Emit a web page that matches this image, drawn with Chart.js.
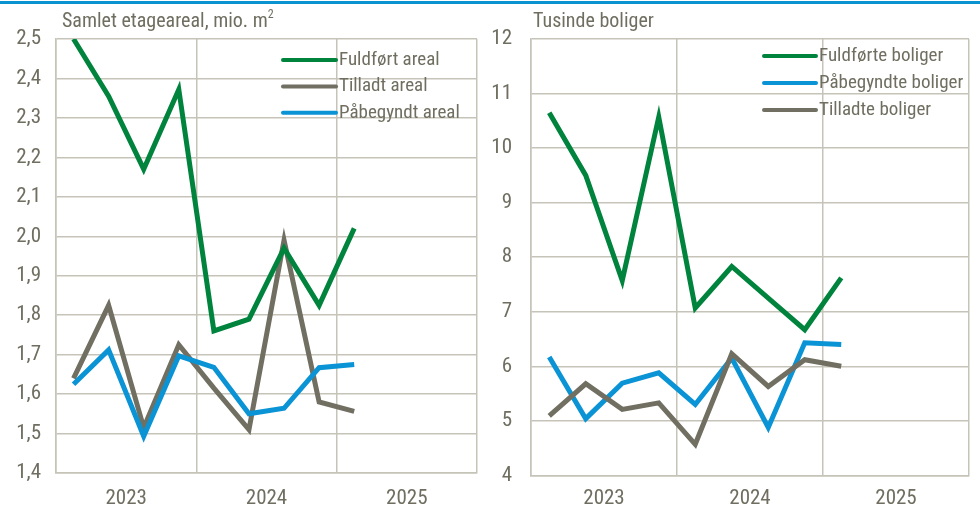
<!DOCTYPE html>
<html>
<head>
<meta charset="utf-8">
<script src="https://cdn.jsdelivr.net/npm/chart.js@4.4.1/dist/chart.umd.min.js"></script>
<style>
  html, body { margin:0; padding:0; background:#fff; }
  body { width:980px; height:507px; position:relative; overflow:hidden; }
  #topline { position:absolute; left:0; top:1px; width:980px; height:2.5px; background:#0a93d1; }
  .panel { position:absolute; top:0; width:490px; height:507px; }
  .ttl { position:absolute; top:8px; font-family:'Liberation Sans Narrow','Arial Narrow','Roboto Condensed','DejaVu Sans Condensed',sans-serif; font-size:20px; color:#6f6e60; white-space:nowrap; }
  .ttl sup { font-size:12px; position:relative; top:-1px; }
</style>
</head>
<body>
<div id="topline"></div>
<div class="panel" style="left:0"><canvas id="c1" width="490" height="507"></canvas></div>
<div class="panel" style="left:490px"><canvas id="c2" width="490" height="507"></canvas></div>
<div class="ttl" style="left:62px">Samlet etageareal, mio. m<sup>2</sup></div>
<div class="ttl" style="left:533px">Tusinde boliger</div>
<script>
// ---------- DATA ----------
const quarters = ['2023K1','2023K2','2023K3','2023K4','2024K1','2024K2','2024K3','2024K4','2025K1','2025K2','2025K3','2025K4'];
const yearLabels = ['2023','2024','2025'];

// Left panel: Samlet etageareal, mio. m2
const fuldfoertAreal  = [2.50, 2.355, 2.17, 2.372, 1.76, 1.79, 1.97, 1.825, 2.02];
const tilladtAreal    = [1.64, 1.825, 1.515, 1.725, 1.615, 1.51, 1.99, 1.58, 1.556];
const paabegyndtAreal = [1.625, 1.712, 1.493, 1.697, 1.668, 1.55, 1.564, 1.667, 1.675];
const leftTicks = [1.4,1.5,1.6,1.7,1.8,1.9,2.0,2.1,2.2,2.3,2.4,2.5];

// Right panel: Tusinde boliger
const fuldfoerteBoliger  = [10.65, 9.5, 7.57, 10.57, 7.07, 7.83, 7.25, 6.67, 7.62];
const paabegyndteBoliger = [6.17, 5.04, 5.69, 5.88, 5.30, 6.15, 4.88, 6.43, 6.40];
const tilladteBoliger    = [5.09, 5.68, 5.21, 5.33, 4.57, 6.23, 5.63, 6.12, 6.00];
const rightTicks = [4,5,6,7,8,9,10,11,12];

// ---------- STYLE ----------
const FONT = "'Liberation Sans Narrow','Arial Narrow','Roboto Condensed','DejaVu Sans Condensed',sans-serif";
const TEXT = '#6f6e60';
const GRID = '#c6c4b8';
const GREEN = '#00843d';
const GRAY = '#706f62';
const BLUE = '#0a93d5';

function pts(arr){ return arr.map((v,i)=>({x:i+0.5, y:v})); }

const legendPlugin = {
  id:'customLegend',
  afterDraw(chart, args, opts){
    const ctx = chart.ctx;
    ctx.save();
    ctx.font = '19px ' + FONT;
    ctx.textBaseline = 'middle';
    ctx.textAlign = 'left';
    opts.items.forEach((it, k) => {
      const ds = chart.data.datasets[it];
      const y = opts.y0 + k*opts.dy;
      ctx.strokeStyle = ds.borderColor;
      ctx.lineWidth = 4;
      ctx.lineCap = 'round';
      ctx.beginPath();
      ctx.moveTo(opts.x0, y);
      ctx.lineTo(opts.x1, y);
      ctx.stroke();
      ctx.fillStyle = TEXT;
      ctx.fillText(ds.label, opts.x1 + 3, y);
    });
    ctx.restore();
  }
};

function makeChart(id, datasets, ticks, fmt, geom, legend){
  return new Chart(document.getElementById(id), {
    type:'line',
    data:{ datasets },
    options:{
      responsive:false,
      animation:false,
      events:[],
      layout:{ padding:{ top:geom.top, right:geom.right, left:0, bottom:0 } },
      elements:{ point:{ radius:0 }, line:{ borderWidth:5, tension:0, borderJoinStyle:'miter', borderCapStyle:'butt' } },
      plugins:{ legend:{ display:false }, tooltip:{ enabled:false }, customLegend: legend },
      scales:{
        x:{
          type:'linear', min:0, max:12,
          afterBuildTicks:(s)=>{ s.ticks=[0,2,4,6,8,10,12].map(v=>({value:v})); },
          afterFit:(s)=>{ s.height = geom.xh; },
          grid:{ color:(c)=> (c.tick && c.tick.value % 4 === 0) ? GRID : 'rgba(0,0,0,0)', lineWidth:1.5, drawTicks:false },
          border:{ color:GRID, width:1.5 },
          ticks:{ autoSkip:false, maxRotation:0, padding:geom.xpad, color:TEXT, font:{ family:FONT, size:21 },
            callback:(v)=> (v % 4 === 2) ? yearLabels[(v-2)/4] : '' }
        },
        y:{
          type:'linear', min:ticks[0], max:ticks[ticks.length-1],
          afterBuildTicks:(s)=>{ s.ticks = ticks.map(v=>({value:v})); },
          afterFit:(s)=>{ s.width = geom.yw; },
          grid:{ color:GRID, lineWidth:1.5, drawTicks:false },
          border:{ color:GRID, width:1.5 },
          ticks:{ padding:geom.ypad, color:TEXT, font:{ family:FONT, size:21 }, callback:fmt }
        }
      }
    },
    plugins:[legendPlugin]
  });
}

makeChart('c1', [
  { label:'Fuldført areal', data:pts(fuldfoertAreal), borderColor:GREEN, order:0 },
  { label:'Tilladt areal', data:pts(tilladtAreal), borderColor:GRAY, order:2 },
  { label:'Påbegyndt areal', data:pts(paabegyndtAreal), borderColor:BLUE, order:1 }
], leftTicks, (v)=> Number(v).toFixed(1).replace('.', ','),
  { top:39, right:12, xh:34, xpad:13, yw:56, ypad:15 },
  { items:[0,1,2], x0:283, x1:336, y0:60, dy:26.4 });

makeChart('c2', [
  { label:'Fuldførte boliger', data:pts(fuldfoerteBoliger), borderColor:GREEN, order:0 },
  { label:'Påbegyndte boliger', data:pts(paabegyndteBoliger), borderColor:BLUE, order:2 },
  { label:'Tilladte boliger', data:pts(tilladteBoliger), borderColor:GRAY, order:1 }
], rightTicks, (v)=> String(v),
  { top:39, right:9, xh:31, xpad:11, yw:41, ypad:19 },
  { items:[0,1,2], x0:274, x1:326, y0:56, dy:27 });
</script>
</body>
</html>
